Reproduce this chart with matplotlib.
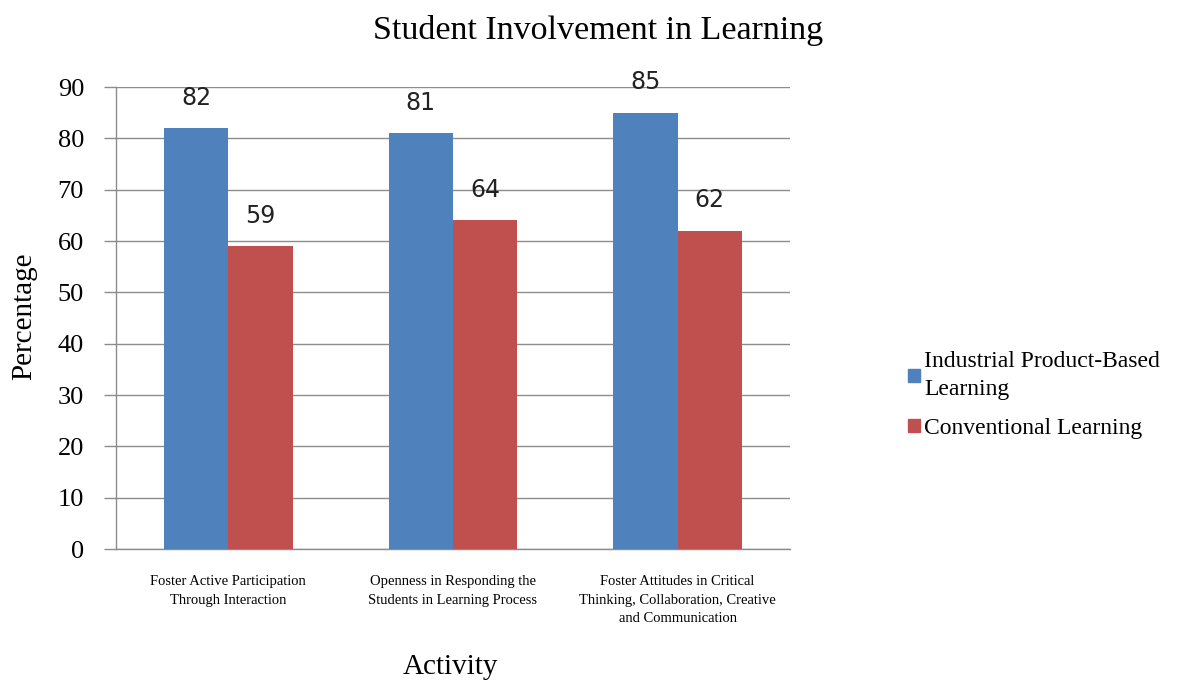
import matplotlib
matplotlib.use("Agg")
import matplotlib.pyplot as plt
import numpy as np
from matplotlib.patches import Patch

categories = ["Foster Active Participation\nThrough Interaction",
              "Openness in Responding the\nStudents in Learning Process",
              "Foster Attitudes in Critical\nThinking, Collaboration, Creative\nand Communication"]
series_names = ["Industrial Product-Based\nLearning", "Conventional Learning"]
ipbl = [82, 81, 85]
conv = [59, 64, 62]
yticks = [0, 10, 20, 30, 40, 50, 60, 70, 80, 90]

blue = "#4F81BD"
red = "#C0504D"
serif = "Liberation Serif"

fig = plt.figure(figsize=(11.81, 6.81), dpi=100)
ax = fig.add_axes([116/1181, 1-549/681, (790-116)/1181, (549-87)/681])

x = np.arange(len(categories))
w = 0.286
b1 = ax.bar(x - w/2, ipbl, w, color=blue, zorder=3)
b2 = ax.bar(x + w/2, conv, w, color=red, zorder=3)

for bars, vals in ((b1, ipbl), (b2, conv)):
    for r, v in zip(bars, vals):
        ax.text(r.get_x() + r.get_width()/2, v + 5.9, str(v), ha="center", va="center",
                fontsize=17, family="DejaVu Sans", color="#222222")

ax.set_xlim(-0.5, 2.5)
ax.set_ylim(0, 90)
ax.set_yticks(yticks)
ax.set_yticklabels([str(t) for t in yticks], fontsize=19, family=serif)
ax.yaxis.grid(True, color="#8c8c8c", linewidth=1, zorder=0)
ax.set_xticks(x)
ax.set_xticklabels(categories, fontsize=10.5, family=serif, linespacing=1.55)
ax.tick_params(axis="x", length=0, pad=19)
ax.tick_params(axis="y", length=9, color="#8c8c8c", width=1, pad=14)
for s in ("top", "right"):
    ax.spines[s].set_visible(False)
for s in ("left", "bottom"):
    ax.spines[s].set_color("#8c8c8c")
    ax.spines[s].set_linewidth(1)

fig.text(24/1181, 1-316/681, "Percentage", ha="center", va="center", rotation=90,
         fontsize=21, family=serif)
fig.text(450/1181, 1-667/681, "Activity", ha="center", va="center", fontsize=21, family=serif)
fig.text(598/1181, 1-30/681, "Student Involvement in Learning", ha="center", va="center",
         fontsize=24.5, family=serif)

handles = [Patch(color=blue), Patch(color=red)]
leg = fig.legend(handles, series_names, loc="center left", bbox_to_anchor=(896/1181, 1-395/681),
                 frameon=False, prop={"family": serif, "size": 17}, handlelength=0.5,
                 handleheight=0.5, handletextpad=0.2, labelspacing=0.75, borderpad=0)
for t in leg.get_texts():
    t.set_linespacing(1.45)

fig.savefig("out.png", dpi=100)
